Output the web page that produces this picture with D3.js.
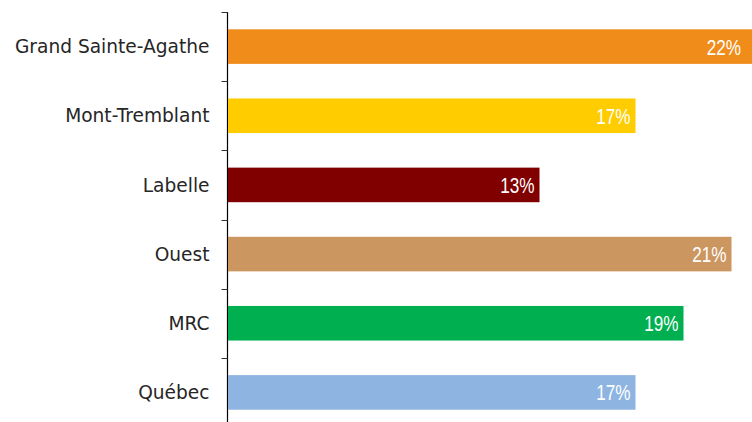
<!DOCTYPE html>
<html><head><meta charset="utf-8">
<script src="https://cdn.jsdelivr.net/npm/d3@7"></script>
<style>body{margin:0;background:#fff}svg{display:block}</style>
</head><body>
<script>
const categories = ["Grand Sainte-Agathe","Mont-Tremblant","Labelle","Ouest","MRC","Québec"];
const values = [22,17,13,21,19,17];
const colors = ["#F08C1A","#FFCC00","#800000","#CC9661","#00B050","#8EB4E2"];

const W = 752, H = 422;
const svg = d3.select("body").append("svg").attr("width",W).attr("height",H);
const x0 = 227.5;
const x = d3.scaleLinear().domain([0,22]).range([x0, x0 + 22*24]);
const y = d3.scaleBand().domain(categories).range([12,427]).paddingInner(0.5).paddingOuter(0.25);

const step = y.step(), gap = (step - y.bandwidth())/2;
svg.append("line").attr("x1",x0).attr("x2",x0).attr("y1",y.range()[0]).attr("y2",H)
  .attr("stroke","#000").attr("stroke-width",1.2);
svg.selectAll("line.tick").data(categories).join("line").attr("class","tick")
  .attr("x1",x0-6).attr("x2",x0)
  .attr("y1",d=>Math.round(y(d)-gap)+0.5).attr("y2",d=>Math.round(y(d)-gap)+0.5)
  .attr("stroke","#333").attr("stroke-width",1);

svg.selectAll("rect.bar").data(categories).join("rect").attr("class","bar")
  .attr("x",x0+0.5).attr("y",d=>y(d)).attr("height",y.bandwidth())
  .attr("width",(d,i)=>x(values[i])-x0-0.5).attr("fill",(d,i)=>colors[i]);

svg.selectAll("text.cat").data(categories).join("text").attr("class","cat")
  .attr("x",x0-18).attr("y",d=>y(d)+y.bandwidth()/2).attr("dy","0.36em")
  .attr("text-anchor","end").attr("fill","#262626")
  .style("font-family","'DejaVu Sans', sans-serif").style("font-size","18.6px")
  .text(d=>d);

svg.selectAll("text.val").data(categories).join("text").attr("class","val")
  .attr("transform",(d,i)=>`translate(${Math.min(x(values[i]), W-6)-5},${y(d)+y.bandwidth()/2}) scale(0.78,1)`)
  .attr("dy","0.36em")
  .attr("text-anchor","end").attr("fill","#fff")
  .style("font-family","'Liberation Sans', sans-serif").style("font-size","22px")
  .text((d,i)=>values[i]+"%");
</script>
</body></html>
